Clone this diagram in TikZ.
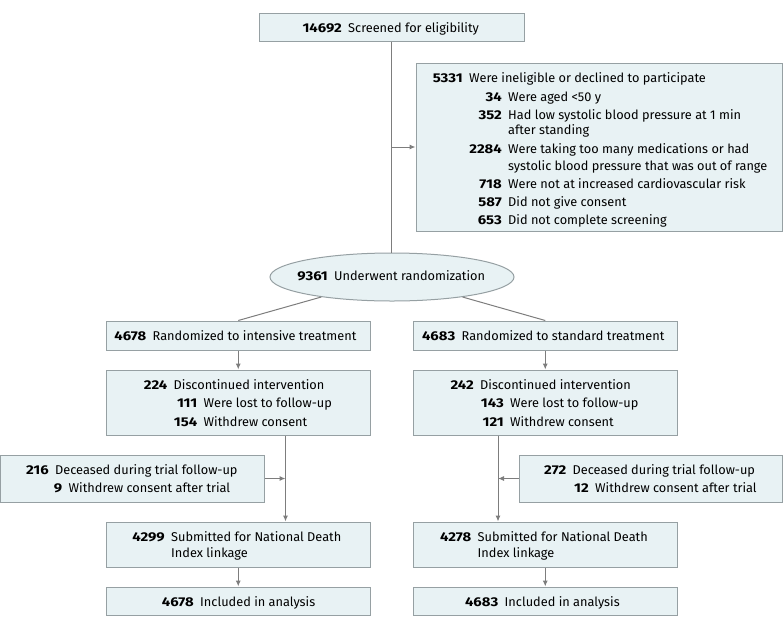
\documentclass[tikz,border=0pt]{standalone}
\usepackage{fontspec}
\setmainfont{Fira Sans}
\newfontfamily\numfont{Fira Sans}[FakeStretch=1.17]
\usetikzlibrary{arrows.meta,shapes.geometric}
\definecolor{boxc}{RGB}{232,242,244}
\definecolor{bordc}{RGB}{150,160,163}
\definecolor{linec}{RGB}{125,125,125}
\newcommand{\fsz}{\fontsize{12.75}{15}\selectfont}
\newcommand{\nt}[5]{%
  \node[num, anchor=base east] (#1n) at (#2,#3) {#4};
  \node[txt, anchor=base west] (#1t) at (#2+6,#3) {#5};}
\newcommand{\cl}[4]{\node[txt, anchor=base west] (#1) at (#2+6,#3) {#4};}
\begin{document}
\begin{tikzpicture}[x=1pt,y=-1pt,
  box/.style={rectangle, draw=bordc, fill=boxc, line width=1pt, inner sep=0pt},
  ellbox/.style={ellipse, draw=bordc, fill=boxc, line width=1pt, inner sep=0pt},
  conn/.style={draw=linec, line width=1pt},
  arr/.style={conn, -{Latex[length=6pt,width=5pt]}},
  num/.style={inner sep=0pt, font=\fsz\numfont\bfseries},
  txt/.style={inner sep=0pt, font=\fsz}]
\useasboundingbox (0,0) rectangle (783,629);
% boxes
\node[box, minimum width=265pt, minimum height=28pt] (top) at (391.5,27) {};
\node[box, minimum width=366pt, minimum height=168pt] (excl) at (599,147) {};
\node[ellbox, minimum width=244pt, minimum height=48pt] (ell) at (392,277) {};
\node[box, minimum width=264.5pt, minimum height=29pt] (rl) at (238.25,335.5) {};
\node[box, minimum width=264.5pt, minimum height=29pt] (rr) at (545.25,335.5) {};
\node[box, minimum width=264.5pt, minimum height=65pt] (dl) at (238.25,402.5) {};
\node[box, minimum width=264.5pt, minimum height=65pt] (dr) at (545.25,402.5) {};
\node[box, minimum width=264pt, minimum height=47pt] (decl) at (132.5,478.5) {};
\node[box, minimum width=263.5pt, minimum height=47pt] (decr) at (650.75,478.5) {};
\node[box, minimum width=264.5pt, minimum height=45pt] (sl) at (238.25,544.5) {};
\node[box, minimum width=264.5pt, minimum height=45pt] (sr) at (545.25,544.5) {};
\node[box, minimum width=264.5pt, minimum height=28pt] (il) at (238.25,601) {};
\node[box, minimum width=264.5pt, minimum height=28pt] (ir) at (545.25,601) {};
% connectors
\draw[conn] (top.south) -- (top.south |- ell.north);
\coordinate (b1) at (391.5,147);
\draw[arr] (b1) -- (excl.west);
\draw[conn] (ell) -- (rl.north);
\draw[conn] (ell) -- (rr.north);
\draw[arr] (rl.south) -- (dl.north);
\draw[arr] (rr.south) -- (dr.north);
\coordinate (xl) at (285.5,0);
\coordinate (xr) at (498,0);
\draw[arr] (dl.south -| xl) -- (sl.north -| xl);
\draw[arr] (decl.east) -- (decl.east -| xl);
\draw[arr] (dr.south -| xr) -- (sr.north -| xr);
\draw[arr] (decr.west) -- (decr.west -| xr);
\draw[arr] (sl.south) -- (il.north);
\draw[arr] (sr.south) -- (ir.north);
% texts
\nt{a}{342}{32}{14692}{Screened for eligibility}
\nt{e0}{463}{82.9}{5331}{Were ineligible or declined to participate}
\nt{e1}{502}{101.9}{34}{Were aged <50 y}
\nt{e2}{502}{119.5}{352}{Had low systolic blood pressure at 1 min}
\cl{e2b}{502}{134.7}{after standing}
\nt{e3}{502}{153.9}{2284}{Were taking too many medications or had}
\cl{e3b}{502}{170.1}{systolic blood pressure that was out of range}
\nt{e4}{502}{188.7}{718}{Were not at increased cardiovascular risk}
\nt{e5}{502}{206.7}{587}{Did not give consent}
\nt{e6}{502}{224.9}{653}{Did not complete screening}
\nt{r}{328}{280.5}{9361}{Underwent randomization}
\nt{ra}{146.5}{340.5}{4678}{Randomized to intensive treatment}
\nt{rb}{455.5}{340.5}{4683}{Randomized to standard treatment}
\nt{da0}{167.5}{389.5}{224}{Discontinued intervention}
\nt{da1}{197.5}{407.8}{111}{Were lost to follow-up}
\nt{da2}{197.5}{426.2}{154}{Withdrew consent}
\nt{db0}{474}{389.5}{242}{Discontinued intervention}
\nt{db1}{504}{407.8}{143}{Were lost to follow-up}
\nt{db2}{504}{426.2}{121}{Withdrew consent}
\nt{ca0}{49}{474.5}{216}{Deceased during trial follow-up}
\nt{ca1}{62.5}{492.8}{9}{Withdrew consent after trial}
\nt{cb0}{566.5}{474.5}{272}{Deceased during trial follow-up}
\nt{cb1}{589}{492.8}{12}{Withdrew consent after trial}
\nt{sa}{165}{541.8}{4299}{Submitted for National Death}
\cl{sab}{165}{557.2}{Index linkage}
\nt{sb}{471.5}{541.8}{4278}{Submitted for National Death}
\cl{sbb}{471.5}{557.2}{Index linkage}
\nt{ia}{194}{606.2}{4678}{Included in analysis}
\nt{ib}{498.5}{606.2}{4683}{Included in analysis}
\end{tikzpicture}
\end{document}
